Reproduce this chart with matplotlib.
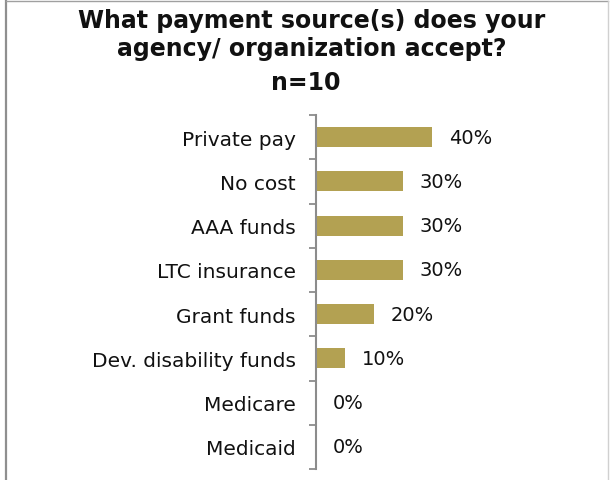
import matplotlib
matplotlib.use("Agg")
import matplotlib.pyplot as plt
from matplotlib.lines import Line2D

# ----- DATA -----
categories = ["Private pay", "No cost", "AAA funds", "LTC insurance",
              "Grant funds", "Dev. disability funds", "Medicare", "Medicaid"]
shares = [0.40, 0.30, 0.30, 0.30, 0.20, 0.10, 0.0, 0.0]
title_lines = ["What payment source(s) does your",
               "agency/ organization accept?",
               "n=10"]

BAR_COLOR = "#B3A152"
AXIS_GRAY = "#8C8C8C"
TEXT = "#111111"
W, H = 610, 481

plt.rcParams["font.family"] = ["DejaVu Sans"]

fig = plt.figure(figsize=(W / 100, H / 100), dpi=100)
fig.patch.set_facecolor("white")

# axes placed in pixel terms: axis line at x=316, top 116, bottom 470
ax = fig.add_axes([316 / W, (H - 470) / H, 261 / W, 354 / H])

pos = list(range(len(categories)))
ax.barh(pos, shares, height=0.45, color=BAR_COLOR)
ax.set_ylim(len(categories) - 0.5, -0.5)
ax.set_xlim(0, 0.9)

for y, v in zip(pos, shares):
    ax.annotate(f"{v:.0%}", (v, y), xytext=(12, 0), textcoords="offset points",
                va="center", ha="left", fontsize=14, color=TEXT)

# category labels, tick marks at the boundaries
ax.set_yticks(pos)
ax.set_yticklabels(categories, fontsize=14.5, color=TEXT)
ax.tick_params(axis="y", which="major", length=0, pad=14.5)
ax.set_yticks([p - 0.5 for p in pos] + [len(categories) - 0.5], minor=True)
ax.tick_params(axis="y", which="minor", length=5, width=1.3, color=AXIS_GRAY)

ax.set_xticks([])
for s in ["top", "right", "bottom"]:
    ax.spines[s].set_visible(False)
ax.spines["left"].set_color(AXIS_GRAY)
ax.spines["left"].set_linewidth(1.5)

# title, one line at a time (baselines at 28, 55 and 90 px)
baselines = [28, 56, 90]
centers = [312, 312, 306]
for line, yb, xc in zip(title_lines, baselines, centers):
    fig.text(xc / W, 1 - yb / H, line, ha="center", va="baseline", fontsize=17,
             fontweight="bold", color=TEXT)

# outer frame (left, top, right)
fig.add_artist(Line2D([6 / W, 6 / W], [0, 1 - 2 / H], transform=fig.transFigure,
                      color="#8F8F8F", lw=1.6))
fig.add_artist(Line2D([6 / W, 608 / W], [1 - 2 / H, 1 - 2 / H], transform=fig.transFigure,
                      color="#A0A0A0", lw=1.0))
fig.add_artist(Line2D([608 / W, 608 / W], [0, 1 - 2 / H], transform=fig.transFigure,
                      color="#D0D0D0", lw=1.0))

fig.savefig("out.png", dpi=100)
